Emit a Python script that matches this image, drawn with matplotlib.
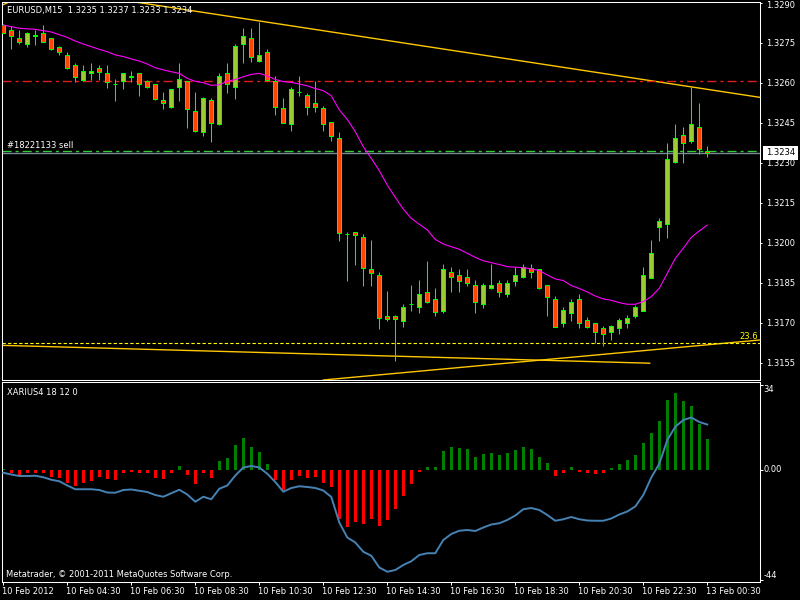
import numpy as np
import matplotlib
matplotlib.use('Agg')
import matplotlib.pyplot as plt

plt.rcParams['font.family'] = ['DejaVu Sans']
plt.rcParams['font.size'] = 6

# --- EURUSD M15 candles (10 Feb 2012 02:30 .. 13 Feb 00:30) ---
opens = [1.32816, 1.32798, 1.32766, 1.32744, 1.32776, 1.32785, 1.32766, 1.32735, 1.32704, 1.32666,
         1.32610, 1.32635, 1.32654, 1.32635, 1.32594, 1.32606, 1.32622, 1.32635, 1.32606, 1.32594,
         1.32535, 1.32510, 1.32582, 1.32606, 1.32494, 1.32414, 1.32535, 1.32444, 1.32635, 1.32582,
         1.32744, 1.32766, 1.32682, 1.32714, 1.32606, 1.32504, 1.32444, 1.32564, 1.32552, 1.32522,
         1.32504, 1.32451, 1.32391, 1.32031, 1.32039, 1.32020, 1.31900, 1.31879, 1.31726, 1.31726,
         1.31707, 1.31769, 1.31757, 1.31816, 1.31787, 1.31745, 1.31889, 1.31879, 1.31870, 1.31841,
         1.31769, 1.31829, 1.31847, 1.31806, 1.31857, 1.31870, 1.31904, 1.31900, 1.31841, 1.31787,
         1.31697, 1.31737, 1.31789, 1.31710, 1.31697, 1.31681, 1.31666, 1.31679, 1.31697, 1.31726,
         1.31745, 1.31869, 1.32060, 1.32069, 1.32301, 1.32404, 1.32382, 1.32435, 1.32344]
highs = [1.32820, 1.32813, 1.32798, 1.32789, 1.32798, 1.32816, 1.32769, 1.32737, 1.32714, 1.32675,
         1.32666, 1.32672, 1.32666, 1.32666, 1.32612, 1.32637, 1.32644, 1.32637, 1.32610, 1.32595,
         1.32564, 1.32577, 1.32672, 1.32608, 1.32564, 1.32545, 1.32541, 1.32635, 1.32672, 1.32745,
         1.32804, 1.32806, 1.32829, 1.32725, 1.32625, 1.32541, 1.32582, 1.32625, 1.32562, 1.32606,
         1.32512, 1.32454, 1.32414, 1.32039, 1.32040, 1.32031, 1.32010, 1.31889, 1.31819, 1.31727,
         1.31770, 1.31841, 1.31860, 1.31931, 1.31831, 1.31920, 1.31910, 1.31901, 1.31901, 1.31860,
         1.31847, 1.31920, 1.31860, 1.31860, 1.31910, 1.31920, 1.31920, 1.31902, 1.31842, 1.31800,
         1.31757, 1.31789, 1.31807, 1.31720, 1.31700, 1.31687, 1.31690, 1.31716, 1.31729, 1.31766,
         1.31908, 1.32010, 1.32091, 1.32372, 1.32445, 1.32435, 1.32585, 1.32525, 1.32364]
lows = [1.32785, 1.32725, 1.32744, 1.32735, 1.32741, 1.32754, 1.32722, 1.32704, 1.32651, 1.32604,
        1.32607, 1.32610, 1.32610, 1.32581, 1.32532, 1.32575, 1.32604, 1.32551, 1.32579, 1.32535,
        1.32502, 1.32504, 1.32532, 1.32431, 1.32414, 1.32400, 1.32379, 1.32441, 1.32562, 1.32540,
        1.32672, 1.32679, 1.32679, 1.32607, 1.32479, 1.32447, 1.32420, 1.32551, 1.32479, 1.32491,
        1.32420, 1.32382, 1.32007, 1.31856, 1.31916, 1.31839, 1.31839, 1.31676, 1.31706, 1.31556,
        1.31685, 1.31744, 1.31737, 1.31774, 1.31726, 1.31737, 1.31816, 1.31816, 1.31839, 1.31737,
        1.31756, 1.31826, 1.31797, 1.31797, 1.31839, 1.31867, 1.31869, 1.31826, 1.31726, 1.31683,
        1.31685, 1.31707, 1.31679, 1.31679, 1.31625, 1.31614, 1.31635, 1.31656, 1.31679, 1.31716,
        1.31743, 1.31867, 1.32007, 1.32019, 1.32298, 1.32300, 1.32372, 1.32332, 1.32320]
closes = [1.32785, 1.32775, 1.32754, 1.32785, 1.32778, 1.32754, 1.32725, 1.32714, 1.32654, 1.32622,
          1.32644, 1.32644, 1.32641, 1.32604, 1.32595, 1.32635, 1.32624, 1.32594, 1.32582, 1.32540,
          1.32522, 1.32575, 1.32612, 1.32502, 1.32419, 1.32541, 1.32450, 1.32625, 1.32594, 1.32737,
          1.32775, 1.32695, 1.32704, 1.32610, 1.32510, 1.32450, 1.32575, 1.32565, 1.32510, 1.32510,
          1.32444, 1.32401, 1.32037, 1.32032, 1.32029, 1.31906, 1.31887, 1.31716, 1.31714, 1.31715,
          1.31757, 1.31770, 1.31807, 1.31776, 1.31739, 1.31900, 1.31870, 1.31857, 1.31847, 1.31776,
          1.31841, 1.31841, 1.31816, 1.31847, 1.31879, 1.31910, 1.31889, 1.31829, 1.31797, 1.31685,
          1.31747, 1.31776, 1.31697, 1.31685, 1.31666, 1.31656, 1.31687, 1.31710, 1.31719, 1.31760,
          1.31879, 1.31963, 1.32081, 1.32314, 1.32394, 1.32372, 1.32445, 1.32350, 1.32335]

# moving average (magenta)
ma = [1.32816, 1.32810, 1.32804, 1.32802, 1.32800, 1.32795, 1.32790, 1.32780, 1.32770, 1.32756,
      1.32745, 1.32735, 1.32725, 1.32716, 1.32704, 1.32698, 1.32689, 1.32681, 1.32670, 1.32656,
      1.32648, 1.32641, 1.32635, 1.32616, 1.32605, 1.32600, 1.32590, 1.32592, 1.32605, 1.32612,
      1.32622, 1.32631, 1.32635, 1.32625, 1.32612, 1.32604, 1.32601, 1.32595, 1.32588, 1.32578,
      1.32570, 1.32551, 1.32498, 1.32462, 1.32416, 1.32360, 1.32316, 1.32270, 1.32216, 1.32170,
      1.32126, 1.32091, 1.32069, 1.32048, 1.32012, 1.31995, 1.31985, 1.31975, 1.31960, 1.31945,
      1.31932, 1.31925, 1.31918, 1.31910, 1.31908, 1.31906, 1.31902, 1.31895, 1.31879, 1.31864,
      1.31858, 1.31839, 1.31828, 1.31815, 1.31800, 1.31789, 1.31784, 1.31775, 1.31769, 1.31769,
      1.31779, 1.31798, 1.31829, 1.31885, 1.31941, 1.31979, 1.32020, 1.32044, 1.32066]

# XARIUS4 histogram and signal line
hist = [0.3, -1.3, -2.4, -1.1, -1.1, -1.3, -2.9, -3.3, -5.3, -6.4,
        -5.1, -4.3, -2.9, -3.6, -4.0, -1.3, -0.8, -1.3, -1.3, -3.1,
        -3.6, -1.3, 1.6, -2.0, -5.6, -1.3, -3.1, 3.6, 4.8, 10.0,
        12.7, 9.3, 7.3, 2.4, -4.0, -8.0, -4.0, -2.4, -3.1, -2.9,
        -5.1, -6.7, -19.7, -22.7, -20.7, -21.6, -19.6, -22.3, -20.0, -15.7,
        -10.3, -5.6, -0.7, 1.1, 1.1, 7.7, 9.1, 8.7, 8.3, 5.1,
        6.4, 6.7, 6.0, 6.9, 8.0, 9.1, 8.3, 5.1, 2.7, -2.3,
        -1.1, 1.1, -0.7, -1.3, -1.7, -1.3, 0.8, 2.4, 4.0, 6.0,
        10.9, 14.9, 19.6, 28.0, 30.7, 27.6, 25.6, 18.4, 12.4]
signal = [-1.1, -1.8, -2.4, -2.4, -2.3, -2.9, -3.9, -4.5, -6.2, -7.7,
          -7.7, -7.7, -8.0, -9.0, -9.1, -8.0, -7.8, -8.3, -8.8, -10.0,
          -10.7, -9.3, -7.9, -9.8, -12.7, -10.7, -11.7, -7.5, -6.2, -2.2,
          1.0, 1.6, 1.0, -1.5, -4.8, -8.7, -7.2, -6.5, -6.8, -7.2,
          -8.2, -10.8, -21.0, -27.0, -29.0, -32.7, -34.3, -39.0, -40.7, -40.0,
          -38.0, -36.5, -34.0, -33.3, -33.3, -28.0, -25.6, -24.3, -24.0, -24.4,
          -23.0, -21.8, -21.3, -20.0, -18.2, -15.7, -15.2, -16.0, -18.0, -20.3,
          -19.7, -18.8, -19.7, -20.2, -20.3, -20.3, -19.4, -17.8, -16.6, -14.6,
          -10.0, -3.0, 2.5, 12.0, 17.3, 20.0, 21.0, 19.2, 18.2]

# objects on the chart
trend_down_x = [0, 95]
trend_down_p = [1.32978, 1.32543]
trend_low_x = [-0.2, 80.8]
trend_low_p = [1.31615, 1.31548]
trend_up_x = [40, 96]
trend_up_p = [1.31485, 1.31639]
corner_x = [-0.2, 1.0]
corner_p = [1.32890, 1.32906]
red_level = 1.32606
order_level = 1.32344
fib_level = 1.31623

price_ticks = [1.3290, 1.3275, 1.3260, 1.3245, 1.3230, 1.3215, 1.3200, 1.3185, 1.3170, 1.3155]
osc_ticks = [34, 0, -44]
osc_labels = ['34', '0.00', '-44']
time_bars = [0, 8, 16, 24, 32, 40, 48, 56, 64, 72, 80, 88]
time_labels = ['10 Feb 2012', '10 Feb 04:30', '10 Feb 06:30', '10 Feb 08:30', '10 Feb 10:30',
               '10 Feb 12:30', '10 Feb 14:30', '10 Feb 16:30', '10 Feb 18:30', '10 Feb 20:30',
               '10 Feb 22:30', '13 Feb 00:30']

fig = plt.figure(figsize=(8, 6), dpi=100, facecolor='black')
ax = fig.add_axes([2.3/800, 1-380/600, 758/800, 377.7/600], facecolor='black')
ax2 = fig.add_axes([2.3/800, 1-582/600, 758/800, 199.7/600], facecolor='black')

idx = np.arange(len(opens))
o, h, l, c = map(np.array, (opens, highs, lows, closes))
bull = c >= o

gold = '#FFC800'
ax.plot(trend_down_x, trend_down_p, color=gold, lw=1.0, zorder=1)
ax.plot(trend_low_x, trend_low_p, color=gold, lw=1.0, zorder=1)
ax.plot(trend_up_x, trend_up_p, color=gold, lw=1.0, zorder=1)
ax.plot(corner_x, corner_p, color=gold, lw=1.0, zorder=1)
ax.axhline(fib_level, color='#FFFF00', lw=0.8, dashes=(3, 2), zorder=1)
ax.axhline(red_level, color='#E01E1E', lw=1.0, dashes=(6.5, 2.9, 2.2, 2.9), zorder=1)
ax.axhline(order_level, color='#32CD32', lw=1.0, dashes=(6.5, 2.9, 2.2, 2.9), zorder=1)
ax.axhline(closes[-1], color='#778899', lw=1.0, zorder=1)

ax.vlines(idx, l, h, color='#00FF00', lw=0.75, zorder=3)
ax.bar(idx, np.maximum(np.abs(c - o), 0.000005), bottom=np.minimum(o, c), width=0.5,
       color=np.where(bull, '#9ACD32', '#FF4500'), edgecolor='#00FF00', linewidth=0.72, zorder=4)
ax.plot(idx, ma, color='#FF00FF', lw=0.8, zorder=5)

ax.set_xlim(-0.125, 94.625)
ax.set_ylim(1.31485, 1.329014)
ax.set_xticks([])
ax.yaxis.tick_right()
ax.set_yticks(price_ticks)
ax.set_yticklabels([])
ax.tick_params(axis='y', colors='white', length=1.6, width=0.72, direction='out')
for p in price_ticks:
    dy = -0.7 if p < 1.3290 else -1.7
    ax.annotate('%.4f' % p, xy=(1, p), xycoords=('axes fraction', 'data'), xytext=(4.1, dy),
                textcoords='offset points', ha='left', va='center', color='white', annotation_clip=False)
ax.annotate('1.3234', xy=(1, closes[-1]), xycoords=('axes fraction', 'data'), xytext=(4.1, 0.5),
            textcoords='offset points', ha='left', va='center', color='black', annotation_clip=False,
            bbox=dict(boxstyle='square,pad=0.3', fc='white', ec='none'))
ax.annotate('23.6', xy=(1, fib_level), xycoords=('axes fraction', 'data'), xytext=(-1.5, 4.8),
            textcoords='offset points', ha='right', va='center', color='#FFFF00')

# oscillator
ax2.bar(idx, hist, width=0.375, color=np.where(np.array(hist) >= 0, '#008000', '#FF0000'), zorder=2)
ax2.plot(idx, signal, color='#4682B4', lw=1.4, zorder=3)
ax2.set_xlim(-0.125, 94.625)
ax2.set_ylim(-44.8, 35.08)
ax2.yaxis.tick_right()
ax2.set_yticks(osc_ticks)
ax2.set_yticklabels([])
ax2.set_xticks(time_bars)
ax2.set_xticklabels([])
ax2.tick_params(colors='white', length=1.8, width=0.72, direction='out')
for v, lab, dy in zip(osc_ticks, osc_labels, [-3.1, 0.7, 3.1]):
    ax2.annotate(lab, xy=(1, v), xycoords=('axes fraction', 'data'), xytext=(2.2, dy),
                 textcoords='offset points', ha='left', va='center', color='white', annotation_clip=False)
for b, lab in zip(time_bars, time_labels):
    ax2.annotate(lab, xy=(b, 0), xycoords=('data', 'axes fraction'), xytext=(-0.7, -7.0),
                 textcoords='offset points', ha='left', va='center', color='white', annotation_clip=False)

for a in (ax, ax2):
    for s in a.spines.values():
        s.set_color('white')
        s.set_linewidth(0.75)

fig.text(6.7/800, 1-10.7/600, 'EURUSD,M15  1.3235 1.3237 1.3233 1.3234', color='white', va='center')
fig.text(7.3/800, 1-145.7/600, '#18221133 sell', color='white', va='center')
fig.text(6.7/800, 1-392.3/600, 'XARIUS4 18 12 0', color='white', va='center')
fig.text(5.7/800, 1-574.3/600, 'Metatrader, \u00a9 2001-2011 MetaQuotes Software Corp.', color='white', va='center')

fig.savefig('out.png', dpi=100, facecolor='black')
